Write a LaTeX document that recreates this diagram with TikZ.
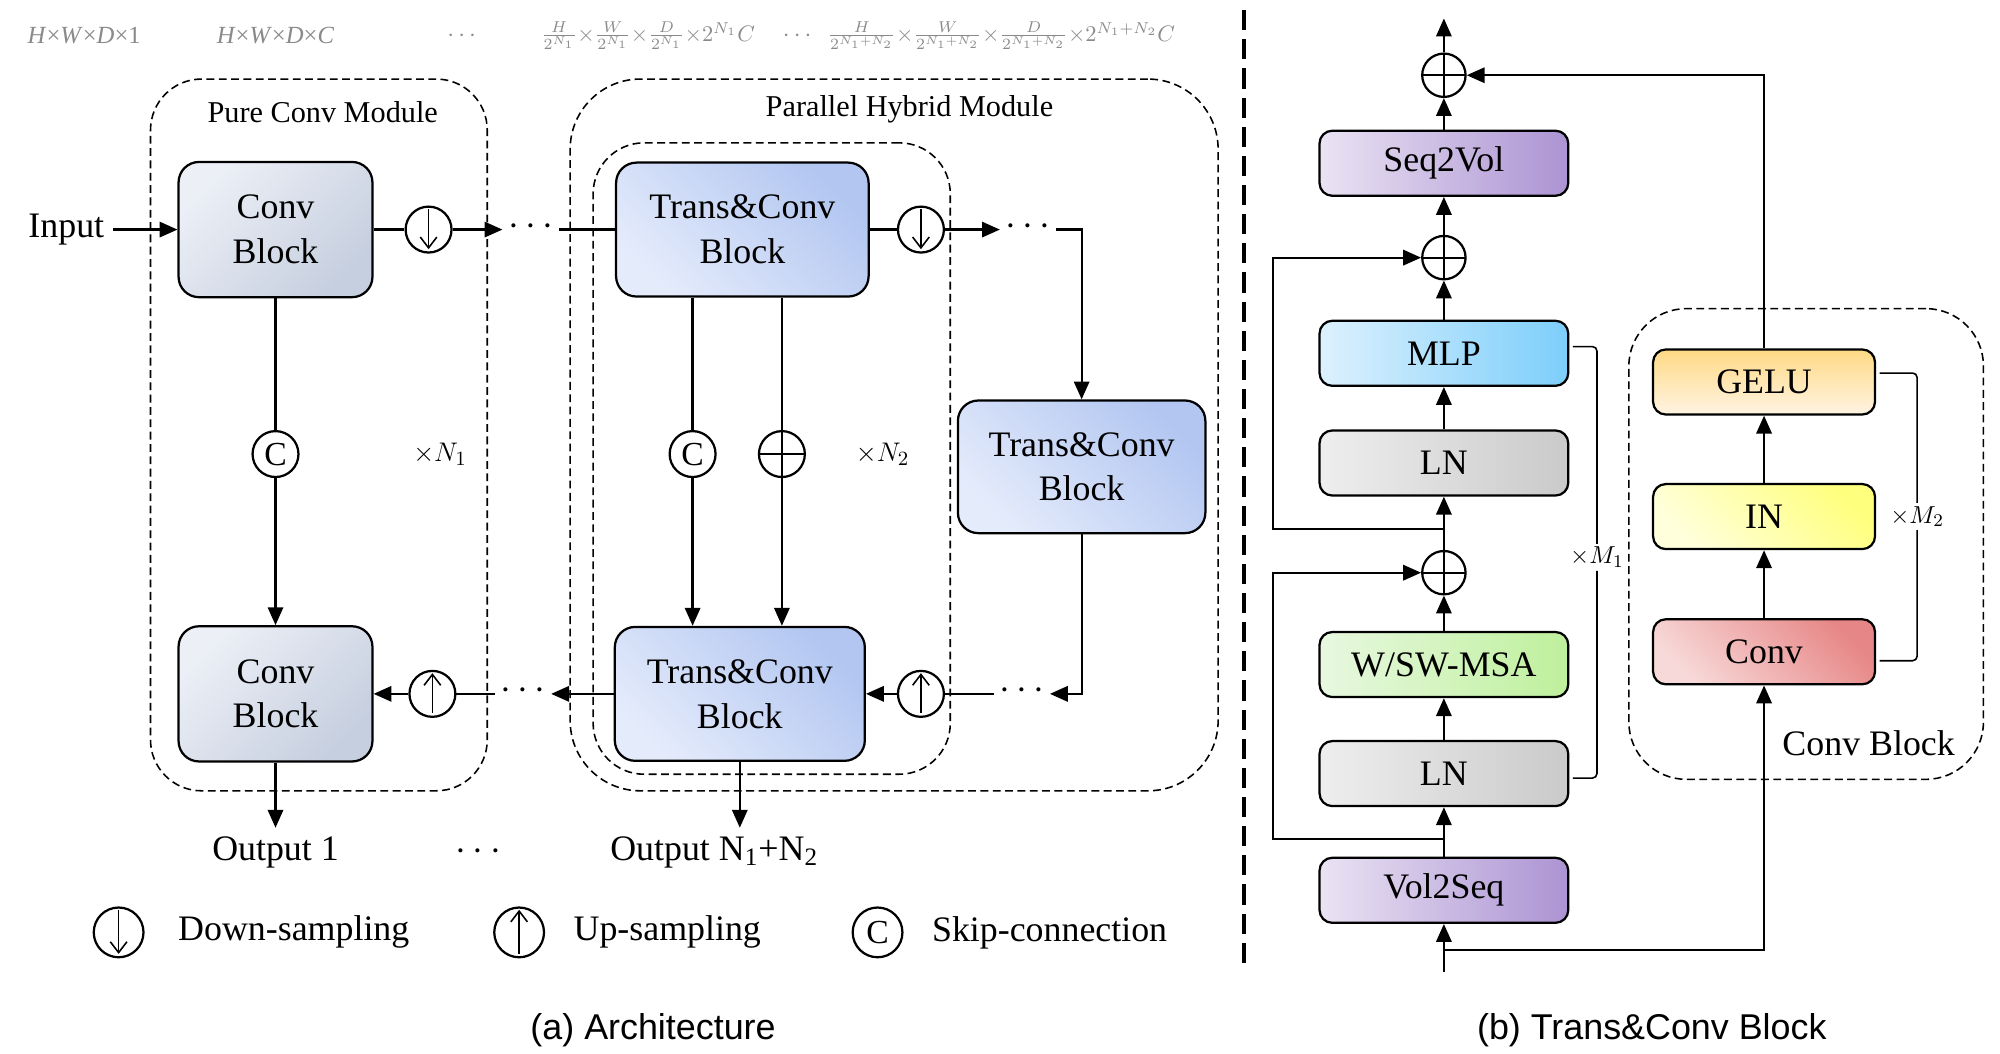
\documentclass[tikz,border=0pt]{standalone}
\usepackage{fontspec}
\setmainfont{Liberation Serif}
\newfontfamily\capfont{Liberation Sans}
\usetikzlibrary{arrows.meta,positioning}

\definecolor{convlight}{HTML}{ECEFF6}
\definecolor{convdark}{HTML}{C6CFDF}
\definecolor{tclight}{HTML}{E4EBFB}
\definecolor{tcdark}{HTML}{B2C6F1}
\definecolor{vollight}{HTML}{EAE3F3}
\definecolor{voldark}{HTML}{AC93D3}
\definecolor{mlplight}{HTML}{DDF1FD}
\definecolor{mlpdark}{HTML}{7CCEFB}
\definecolor{lnlight}{HTML}{EEEEEE}
\definecolor{lndark}{HTML}{CACACA}
\definecolor{msalight}{HTML}{E8F8E0}
\definecolor{msadark}{HTML}{BEF09C}
\definecolor{gelulight}{HTML}{FFF4E3}
\definecolor{geludark}{HTML}{FFD984}
\definecolor{inlight}{HTML}{FFFFDC}
\definecolor{indark}{HTML}{FFFF7E}
\definecolor{cvlight}{HTML}{F8D9D9}
\definecolor{cvdark}{HTML}{E78686}
\definecolor{labelgray}{HTML}{8A8A8A}

\begin{document}
\begin{tikzpicture}[
	line width=1pt,
	>={Triangle[length=2.8mm,width=2.4mm]},
	blk/.style={shape=rectangle, rounded corners=0.32cm, draw, align=center, line width=1pt, font=\fontsize{16}{20}\selectfont},
	convblk/.style={blk, minimum width=3.04cm, minimum height=2.12cm, top color=convlight, bottom color=convdark, shading angle=45},
	tcblk/.style={blk, minimum width=3.96cm, minimum height=2.1cm, top color=tcdark, bottom color=tclight, shading angle=-45},
	lyr/.style={shape=rectangle, rounded corners=0.2cm, draw, line width=1pt, minimum width=3.9cm, minimum height=1.02cm, font=\fontsize{16}{20}\selectfont},
	cblyr/.style={lyr, minimum width=3.48cm},
	modframe/.style={shape=rectangle, draw, dash pattern=on 3.5pt off 2pt, line width=0.7pt},
	op/.style={shape=circle, draw, minimum size=0.72cm, inner sep=0pt},
	downop/.style={op, path picture={\draw[-{Straight Barb[length=1.7mm,width=2.6mm]}, line width=0.7pt] ([yshift=-1pt]path picture bounding box.north) -- ([yshift=1.5pt]path picture bounding box.south);}},
	upop/.style={op, path picture={\draw[-{Straight Barb[length=1.7mm,width=2.6mm]}, line width=0.7pt] ([yshift=1.5pt]path picture bounding box.south) -- ([yshift=-1pt]path picture bounding box.north);}},
	plusop/.style={op, path picture={\draw[line width=0.9pt] (path picture bounding box.north) -- (path picture bounding box.south) (path picture bounding box.west) -- (path picture bounding box.east);}},
	catop/.style={op, font=\fontsize{15}{18}\selectfont},
	dots/.style={inner sep=2pt, text height=0.5em, text depth=0pt, font=\fontsize{16}{20}\selectfont},
	txt/.style={font=\fontsize{16}{20}\selectfont},
	modtitle/.style={font=\fontsize{13.5}{16}\selectfont},
	dimlbl/.style={font=\fontsize{11}{13}\selectfont, text=labelgray, inner sep=1pt},
	dimfrac/.style={font=\fontsize{10}{12}\selectfont, text=labelgray, inner sep=1pt},
	rep/.style={font=\fontsize{13}{16}\selectfont},
	reps/.style={font=\fontsize{11}{13}\selectfont, fill=white, inner sep=1pt},
	bracket/.style={line width=0.7pt, rounded corners=2pt},
	figcap/.style={font=\capfont\fontsize{16}{20}\selectfont}
]
	\useasboundingbox (0,0) rectangle (31.36,16.52);

	% feature sizes along the top
	\node (s1)[dimlbl] at (1.32,15.96) {\textit{H}×\textit{W}×\textit{D}×1};
	\node (s2)[dimlbl] at (4.32,15.96) {\textit{H}×\textit{W}×\textit{D}×\textit{C}};
	\node (s3)[dimlbl] at (7.24,15.96) {$\cdots$};
	\node (s4)[dimfrac] at (10.16,15.96) {$\frac{H}{2^{N_1}}{\times}\frac{W}{2^{N_1}}{\times}\frac{D}{2^{N_1}}{\times}2^{N_1}C$};
	\node (s5)[dimlbl] at (12.5,15.96) {$\cdots$};
	\node (s6)[dimfrac] at (15.7,15.96) {$\frac{H}{2^{N_1+N_2}}{\times}\frac{W}{2^{N_1+N_2}}{\times}\frac{D}{2^{N_1+N_2}}{\times}2^{N_1+N_2}C$};

	% module frames
	\node (pcm)[modframe, rounded corners=0.8cm, minimum width=5.28cm, minimum height=11.16cm] at (5.0,9.7) {};
	\node (pcmt)[modtitle] at (5.06,14.76) {Pure Conv Module};
	\node (phm)[modframe, rounded corners=1.1cm, minimum width=10.16cm, minimum height=11.16cm] at (14.02,9.7) {};
	\node (phmt)[modtitle] at (14.26,14.8) {Parallel Hybrid Module};
	\node (inner)[modframe, rounded corners=0.8cm, minimum width=5.6cm, minimum height=9.9cm] at (12.1,9.33) {};

	% pure conv module
	\node (input)[txt] at (1.04,12.92) {Input};
	\node (convA)[convblk] at (4.32,12.92) {Conv\\Block};
	\node (convB)[convblk] at (4.32,5.64) {Conv\\Block};
	\node (down1)[downop] at (6.72,12.92) {};
	\node (up1)[upop] at (6.78,5.64) {};
	\node (skip1)[catop] at (4.32,9.4) {C};
	\node (xn1)[rep] at (6.9,9.4) {${\times}N_1$};
	\node (dots1)[dots] at (8.32,12.92) {$\cdots$};
	\node (dots4)[dots] at (8.2,5.64) {$\cdots$};

	% parallel hybrid module
	\node (tcA)[tcblk] at (11.64,12.92) {Trans\&Conv\\Block};
	\node (tcB)[tcblk, minimum width=3.92cm] at (11.6,5.64) {Trans\&Conv\\Block};
	\node (tcR)[tcblk, minimum width=3.88cm, minimum height=2.08cm] at (16.96,9.2) {Trans\&Conv\\Block};
	\node (skip2)[catop] at (10.86,9.4) {C};
	\node (plus2)[plusop] at (12.26,9.4) {};
	\node (xn2)[rep] at (13.84,9.4) {${\times}N_2$};
	\node (down2)[downop] at (14.44,12.92) {};
	\node (up2)[upop] at (14.44,5.64) {};
	\node (dots2)[dots] at (16.12,12.92) {$\cdots$};
	\node (dots3)[dots] at (16.02,5.64) {$\cdots$};

	% outputs
	\node (out1)[txt] at (4.32,3.16) {Output 1};
	\node (odots)[txt] at (7.5,3.16) {$\cdots$};
	\node (out2)[txt] at (11.2,3.16) {Output N\textsubscript{1}+N\textsubscript{2}};

	\path[->] (input) edge (convA);
	\draw (convA) -- (down1);
	\draw[->] (down1) -- (dots1);
	\draw (dots1) -- (tcA);
	\draw (convA) -- (skip1);
	\draw[->] (skip1) -- (convB);
	\draw[->] (tcB) -- (dots4);
	\draw (dots4) -- (up1);
	\draw[->] (up1) -- (convB);
	\draw (tcA.south -| skip2) -- (skip2);
	\draw[->] (skip2) -- (skip2 |- tcB.north);
	\draw (tcA.south -| plus2) -- (plus2);
	\draw[->] (plus2) -- (plus2 |- tcB.north);
	\draw (tcA) -- (down2);
	\draw[->] (down2) -- (dots2);
	\draw[->] (dots2) -| (tcR);
	\draw[->] (tcR) |- (dots3);
	\draw (dots3) -- (up2);
	\draw[->] (up2) -- (tcB);
	\draw[->] (convB) -- (out1);
	\draw[->] (tcB.south) -- (tcB.south |- out2.north);

	% legend
	\node (lgdown)[downop, minimum size=0.78cm] at (1.86,1.9) {};
	\node (lgdownt)[txt, anchor=west] at (2.66,1.9) {Down-sampling};
	\node (lgup)[upop, minimum size=0.78cm] at (8.14,1.9) {};
	\node (lgupt)[txt, anchor=west] at (8.86,1.9) {Up-sampling};
	\node (lgcat)[catop, minimum size=0.78cm] at (13.76,1.9) {C};
	\node (lgcatt)[txt, anchor=west] at (14.48,1.9) {Skip-connection};

	\node (capa)[figcap] at (10.24,0.36) {(a) Architecture};

	% divider
	\draw[line width=1.7pt, dash pattern=on 9pt off 4pt] (19.5,16.36) -- (19.5,1.32);

	% trans&conv block
	\node (p3)[plusop, minimum size=0.68cm] at (22.64,15.34) {};
	\node (s2v)[lyr, left color=vollight, right color=voldark] at (22.64,13.96) {Seq2Vol};
	\node (p2)[plusop, minimum size=0.68cm] at (22.64,12.48) {};
	\node (mlp)[lyr, left color=mlplight, right color=mlpdark] at (22.64,10.98) {MLP};
	\node (ln1)[lyr, left color=lnlight, right color=lndark] at (22.64,9.26) {LN};
	\node (p1)[plusop, minimum size=0.68cm] at (22.64,7.54) {};
	\node (msa)[lyr, left color=msalight, right color=msadark] at (22.64,6.1) {W/SW-MSA};
	\node (ln2)[lyr, left color=lnlight, right color=lndark] at (22.64,4.39) {LN};
	\node (v2s)[lyr, left color=vollight, right color=voldark] at (22.64,2.56) {Vol2Seq};
	\node (m1)[reps] at (25.04,7.78) {${\times}M_1$};

	\node (cbf)[modframe, rounded corners=0.9cm, minimum width=5.56cm, minimum height=7.38cm] at (28.32,7.99) {};
	\node (cbt)[txt] at (29.3,4.86) {Conv Block};
	\node (gelu)[cblyr, top color=geludark, bottom color=gelulight] at (27.66,10.53) {GELU};
	\node (inorm)[cblyr, top color=indark, bottom color=inlight, shading angle=-45] at (27.66,8.42) {IN};
	\node (conv)[cblyr, top color=cvdark, bottom color=cvlight, shading angle=-45] at (27.66,6.3) {Conv};
	\node (m2)[reps] at (30.06,8.42) {${\times}M_2$};

	\coordinate (tin) at (22.64,1.28);
	\coordinate (tbr) at (22.64,1.62);
	\coordinate (tout) at (22.64,16.23);
	\coordinate (sk1) at (22.64,3.36);
	\coordinate (sk1l) at (19.96,3.36);
	\coordinate (sk2) at (22.64,8.23);
	\coordinate (sk2l) at (19.96,8.23);

	\draw[->] (tin) -- (v2s);
	\draw[->] (tbr) -| (conv);
	\draw[->] (v2s) -- (ln2);
	\draw[->] (ln2) -- (msa);
	\draw[->] (msa) -- (p1);
	\draw[->] (p1) -- (ln1);
	\draw[->] (ln1) -- (mlp);
	\draw[->] (mlp) -- (p2);
	\draw[->] (p2) -- (s2v);
	\draw[->] (s2v) -- (p3);
	\draw[->] (p3) -- (tout);
	\draw[->] (sk1) -- (sk1l) |- (p1);
	\draw[->] (sk2) -- (sk2l) |- (p2);
	\draw[->] (conv) -- (inorm);
	\draw[->] (inorm) -- (gelu);
	\draw[->] (gelu) |- (p3);
	\draw[bracket] ([xshift=1.5pt,yshift=3pt]mlp.east) -| (m1.north);
	\draw[bracket] (m1.south) |- ([xshift=1.5pt,yshift=-2pt]ln2.east);
	\draw[bracket] ([xshift=1.5pt,yshift=4pt]gelu.east) -| (m2.north);
	\draw[bracket] (m2.south) |- ([xshift=1.5pt,yshift=-4pt]conv.east);

	\node (capb)[figcap] at (25.9,0.36) {(b) Trans\&Conv Block};
\end{tikzpicture}
\end{document}
